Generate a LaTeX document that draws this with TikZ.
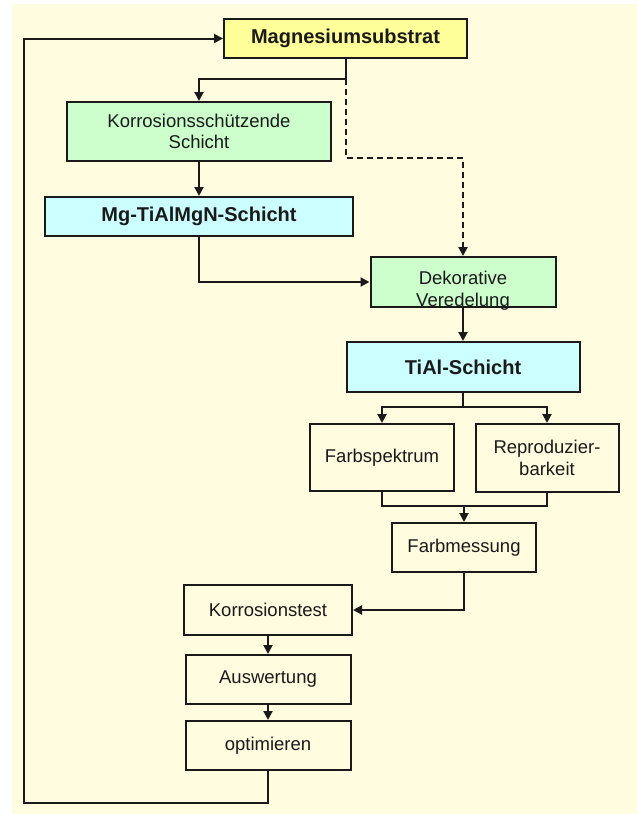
\documentclass[tikz,border=0pt]{standalone}
\usepackage{fontspec}
\setmainfont{Liberation Sans}
\usetikzlibrary{arrows.meta}
\definecolor{bgyel}{HTML}{FFFCDF}
\definecolor{magyel}{HTML}{FFFF99}
\definecolor{grn}{HTML}{CCFFCC}
\definecolor{cyn}{HTML}{CCFFFF}
\definecolor{ink}{HTML}{1A1A1A}
\begin{document}
\begin{tikzpicture}[x=1pt,y=-1pt,
  box/.style={draw=ink, line width=2pt, rectangle, inner sep=0pt, align=center,
    text=ink, font=\fontsize{18.5}{21.5}\selectfont},
  boldbox/.style={box, font=\fontsize{20}{22}\selectfont\bfseries},
  conn/.style={draw=ink, line width=2pt},
  arr/.style={conn, -{Triangle[length=9pt,width=9pt]}},
  dashconn/.style={arr, dash pattern=on 6pt off 4pt},
  txt/.style={inner sep=0pt, align=center, text=ink, font=\fontsize{18.5}{22}\selectfont}
]
\useasboundingbox (0,0) rectangle (637,814);
\fill[white] (0,0) rectangle (637,814);
\fill[bgyel] (12,4) rectangle (637,814);

% boxes
\node[boldbox, fill=magyel, minimum width=243pt, minimum height=39pt] (mag) at (345.5,38.5) {Magnesiumsubstrat};
\node[box, fill=grn, minimum width=264pt, minimum height=59pt] (kor) at (199,131.5) {Korrosionsschützende\\Schicht};
\node[boldbox, fill=cyn, minimum width=308pt, minimum height=39pt] (mgn) at (199,216.5) {Mg-TiAlMgN-Schicht};
\node[box, fill=grn, minimum width=185pt, minimum height=50pt] (dek) at (463,282) {};
\node[txt, yshift=-9pt] (dektxt) at (dek.center) {Dekorative\\Veredelung};
\node[boldbox, fill=cyn, minimum width=233pt, minimum height=50pt] (tial) at (463,367) {TiAl-Schicht};
\node[box, minimum width=144pt, minimum height=67pt] (farb) at (382,457.5) {Farbspektrum};
\node[box, minimum width=143pt, minimum height=68pt] (rep) at (547,458) {Reproduzier-\\barkeit};
\node[box, minimum width=144pt, minimum height=49pt] (fmess) at (464,547.5) {Farbmessung};
\node[box, minimum width=168pt, minimum height=50pt] (ktest) at (268,610) {Korrosionstest};
\node[box, minimum width=165pt, minimum height=49pt] (ausw) at (268,679.5) {Auswertung};
\node[box, minimum width=165pt, minimum height=49pt] (opt) at (268,745.5) {optimieren};

% junction coordinates
\coordinate (j1) at (345.5,79);
\coordinate (jbot) at (24,803);
\coordinate (jtop) at (24,38.5);

% connectors
\draw[arr] (mag.south) -- (j1) -| (kor.north);
\draw[dashconn] (j1) -- (345.5,158) -| (dek.north);
\draw[arr] (kor.south) -- (mgn.north);
\draw[arr] (mgn.south) |- (dek.west);
\draw[arr] (dek.south) -- (tial.north);
\draw[arr] (tial.south) -- (463,407) -| (farb.north);
\draw[arr] (463,407) -| (rep.north);
\draw[conn] (farb.south) |- (464,506) -| (rep.south);
\draw[arr] (464,506) -- (fmess.north);
\draw[arr] (fmess.south) |- (ktest.east);
\draw[arr] (ktest.south) -- (ausw.north);
\draw[arr] (ausw.south) -- (opt.north);
\draw[arr] (opt.south) |- (jbot) -- (jtop) -- (mag.west);
\end{tikzpicture}
\end{document}
